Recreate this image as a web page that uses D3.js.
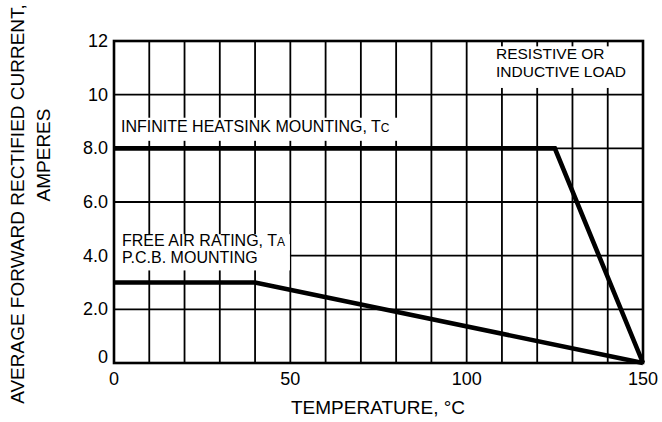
<!DOCTYPE html>
<html>
<head>
<meta charset="utf-8">
<script src="https://cdn.jsdelivr.net/npm/d3@7"></script>
<style>
  body { margin: 0; background: #fff; }
  text { font-family: "Liberation Sans", Arial, sans-serif; fill: #000; }
</style>
</head>
<body>
<script>
const width = 662;
const height = 422;

// data
const heatsinkTemp = [0, 125, 150];
const heatsinkAmps = [8, 8, 0];
const freeAirTemp = [0, 40, 150];
const freeAirAmps = [3, 3, 0];

const xTicks = [0, 50, 100, 150];
const xTickLabels = ['0', '50', '100', '150'];
const yTicks = [0, 2, 4, 6, 8, 10, 12];
const yTickLabels = ['0', '2.0', '4.0', '6.0', '8.0', '10', '12'];
const xGrid = d3.range(0, 151, 10);
const yGrid = d3.range(0, 13, 2);

const svg = d3.select('body')
  .append('svg')
  .attr('width', width)
  .attr('height', height);

const x = d3.scaleLinear().domain([0, 150]).range([114, 643]);
const y = d3.scaleLinear().domain([0, 12]).range([363, 41]);

// grid
svg.append('g')
  .selectAll('line')
  .data(xGrid)
  .join('line')
    .attr('x1', d => x(d)).attr('x2', d => x(d))
    .attr('y1', y(0)).attr('y2', y(12))
    .attr('stroke', '#000').attr('stroke-width', 1.8);

svg.append('g')
  .selectAll('line')
  .data(yGrid)
  .join('line')
    .attr('x1', x(0)).attr('x2', x(150))
    .attr('y1', d => y(d)).attr('y2', d => y(d))
    .attr('stroke', '#000').attr('stroke-width', 1.8);

// white label backgrounds
const boxes = [
  { x0: 0, x1: 81, y0: 9.14, y1: 8.28 },
  { x0: 0, x1: 49.6, y0: 4.8, y1: 3.45 },
  { x0: 104, x1: 149.6, y0: 11.8, y1: 10.25 }
];
svg.append('g')
  .selectAll('rect')
  .data(boxes)
  .join('rect')
    .attr('x', d => x(d.x0) + 1)
    .attr('y', d => y(d.y0))
    .attr('width', d => x(d.x1) - x(d.x0))
    .attr('height', d => y(d.y1) - y(d.y0))
    .attr('fill', '#fff');

// border
svg.append('rect')
  .attr('x', x(0)).attr('y', y(12))
  .attr('width', x(150) - x(0)).attr('height', y(0) - y(12))
  .attr('fill', 'none').attr('stroke', '#000').attr('stroke-width', 2.6);

// curves
const line = d3.line().x(d => x(d[0])).y(d => y(d[1]));
[[heatsinkTemp, heatsinkAmps], [freeAirTemp, freeAirAmps]].forEach(([t, a]) => {
  svg.append('path')
    .datum(t.map((v, i) => [v, a[i]]))
    .attr('d', line)
    .attr('fill', 'none')
    .attr('stroke', '#000')
    .attr('stroke-width', 4.6);
});

// tick labels
svg.append('g')
  .selectAll('text')
  .data(xTicks)
  .join('text')
    .attr('x', d => x(d))
    .attr('y', 385)
    .attr('text-anchor', 'middle')
    .attr('font-size', 18)
    .text((d, i) => xTickLabels[i]);

svg.append('g')
  .selectAll('text')
  .data(yTicks)
  .join('text')
    .attr('x', 108)
    .attr('y', d => y(d) + 6 - (d === 0 ? 6 : 0))
    .attr('text-anchor', 'end')
    .attr('font-size', 18)
    .text((d, i) => yTickLabels[i]);

// axis titles
svg.append('text')
  .attr('x', 378).attr('y', 414)
  .attr('text-anchor', 'middle')
  .attr('font-size', 19)
  .text('TEMPERATURE, °C');

svg.append('text')
  .attr('transform', 'translate(24,204) rotate(-90)')
  .attr('text-anchor', 'middle')
  .attr('font-size', 19)
  .text('AVERAGE FORWARD RECTIFIED CURRENT,');

svg.append('text')
  .attr('transform', 'translate(50,155) rotate(-90)')
  .attr('text-anchor', 'middle')
  .attr('font-size', 19)
  .text('AMPERES');

// annotations
const hs = svg.append('text').attr('x', 121).attr('y', 132).attr('font-size', 16);
hs.append('tspan').text('INFINITE HEATSINK MOUNTING, T');
hs.append('tspan').attr('font-size', 12).text('C');

const fa = svg.append('text').attr('x', 122).attr('y', 246).attr('font-size', 16);
fa.append('tspan').text('FREE AIR RATING, T');
fa.append('tspan').attr('font-size', 12).text('A');
svg.append('text').attr('x', 122).attr('y', 263).attr('font-size', 16).text('P.C.B. MOUNTING');

svg.append('text').attr('x', 496).attr('y', 59).attr('font-size', 15.5).text('RESISTIVE OR');
svg.append('text').attr('x', 496).attr('y', 77).attr('font-size', 15.5).text('INDUCTIVE LOAD');
</script>
</body>
</html>
